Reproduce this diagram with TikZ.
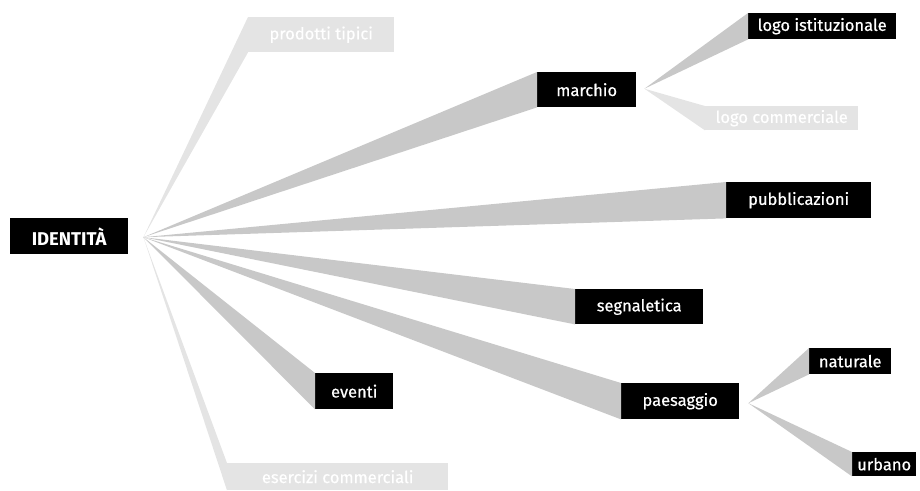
\documentclass[tikz,border=0pt]{standalone}
\usepackage{fontspec}
\setmainfont{Fira Sans}
\newfontfamily\labelfont{Fira Sans}[FakeBold=0.5]
\usetikzlibrary{positioning,calc}
\definecolor{wedgegray}{HTML}{C8C8C8}
\definecolor{fadegray}{HTML}{E4E4E4}

\begin{document}
\begin{tikzpicture}[x=1pt, y=-1pt, font=\labelfont\fontsize{16.5}{18}\selectfont]
    \tikzstyle{topic} = [rectangle, fill=black, text=white, anchor=north west, inner sep=0pt]
    \tikzstyle{faded} = [rectangle, fill=fadegray, text=white, anchor=north west, inner sep=0pt]
    \tikzstyle{wedge} = [fill=wedgegray]
    \tikzstyle{fadewedge} = [fill=fadegray]

    \useasboundingbox (0,0) rectangle (920,490);

    % Root
    \node[topic, minimum width=118pt, minimum height=36pt, font=\normalfont\fontsize{18.5}{20}\selectfont\bfseries] (identita) at (10,218) {IDENTITÀ};
    \coordinate (hub) at ($(identita.east)+(15,1)$);

    % First level
    \node[faded, minimum width=146pt, minimum height=35pt] (prodotti) at (248,17) {prodotti tipici};
    \node[topic, minimum width=99pt, minimum height=35pt] (marchio) at (537,72) {marchio};
    \node[topic, minimum width=145pt, minimum height=36pt] (pubblicazioni) at (726,182) {pubblicazioni};
    \node[topic, minimum width=128pt, minimum height=35pt] (segnaletica) at (575,289) {segnaletica};
    \node[topic, minimum width=118pt, minimum height=36pt] (paesaggio) at (621,383) {paesaggio};
    \node[topic, minimum width=78pt, minimum height=36pt] (eventi) at (315,373) {eventi};
    \node[faded, minimum width=221pt, minimum height=27pt] (esercizi) at (227,463) {esercizi commerciali};

    % Marchio branch
    \coordinate (mhub) at ($(marchio.east)+(8,-1)$);
    \node[topic, minimum width=148pt, minimum height=26pt] (logoist) at (748,13) {logo istituzionale};
    \node[faded, minimum width=153pt, minimum height=24pt] (logocom) at (705,106) {logo commerciale};

    % Paesaggio branch
    \coordinate (phub) at ($(paesaggio.east)+(9,2)$);
    \node[topic, minimum width=82pt, minimum height=26pt] (naturale) at (809,348) {naturale};
    \node[topic, minimum width=64pt, minimum height=24pt] (urbano) at (852,452) {urbano};

    % Wedges
    \foreach \n in {marchio, pubblicazioni, segnaletica, paesaggio, eventi}
        \fill[wedge] (hub) -- (\n.north west) -- (\n.south west) -- cycle;
    \foreach \n in {prodotti, esercizi}
        \fill[fadewedge] (hub) -- (\n.north west) -- (\n.south west) -- cycle;
    \fill[wedge] (mhub) -- (logoist.north west) -- (logoist.south west) -- cycle;
    \fill[fadewedge] (mhub) -- (logocom.north west) -- (logocom.south west) -- cycle;
    \foreach \n in {naturale, urbano}
        \fill[wedge] (phub) -- (\n.north west) -- (\n.south west) -- cycle;
\end{tikzpicture}
\end{document}
